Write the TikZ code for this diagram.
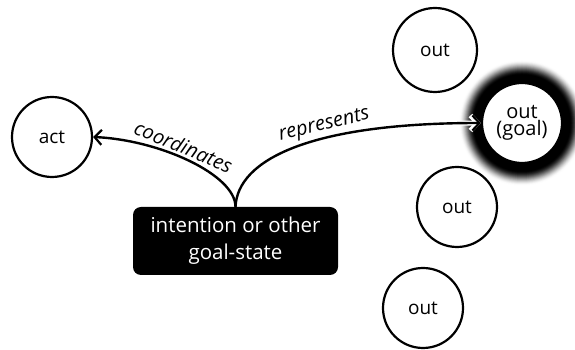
\documentclass[tikz,border=0pt]{standalone}
\usepackage{fontspec}
\setmainfont{Open Sans}
\usetikzlibrary{arrows.meta}
\begin{document}
\begin{tikzpicture}[x=1pt,y=1pt,
  state/.style={circle, draw=black, line width=2.2pt, fill=white, minimum size=80pt, inner sep=0pt, font=\fontsize{19}{20}\selectfont, align=center},
  goalbox/.style={rectangle, rounded corners=8pt, fill=black, text=white, minimum width=205pt, minimum height=68pt, inner sep=0pt, font=\fontsize{20.5}{27}\selectfont, align=center},
  link/.style={line width=2.4pt, -{Straight Barb[length=7pt, width=15pt, line width=2.2pt]}},
  halo/.style={line width=5pt, white, -{Straight Barb[length=7pt, width=15pt, line width=5pt]}},
  lbl/.style={font=\itshape\fontsize{20}{21}\selectfont, sloped, above, inner sep=2pt}]
\useasboundingbox (0,0) rectangle (575,350);
\coordinate (goalc) at (522,227);
\foreach \r in {64,63.5,...,47} {
  \pgfmathsetmacro\t{min(1,max(0,(\r-48)/15))}
  \pgfmathsetmacro\k{100*(1-(3*\t*\t-2*\t*\t*\t))}
  \fill[black!\k!white] (goalc) circle (\r);
}
\node[state] (act) at (52,213) {act};
\node[state, minimum size=84pt] (out1) at (435,300) {out};
\node[state, font=\fontsize{20}{17}\selectfont] (goal) at (goalc) {out\\(goal)};
\node[state] (out3) at (457,143) {out};
\node[state] (out4) at (423,42) {out};
\node[goalbox] (int) at (235.5,109) {intention or other\\goal-state};
\draw[link] (int.north) .. controls +(0,32) and (160,210) .. node[lbl, pos=0.56] {coordinates} (act.east);
\draw[halo, shorten <=60pt] (int.north) .. controls +(2,47) and (310,227) .. (goal.west);
\draw[link] (int.north) .. controls +(2,47) and (310,227) .. node[lbl, pos=0.62] {represents} (goal.west);
\end{tikzpicture}
\end{document}
